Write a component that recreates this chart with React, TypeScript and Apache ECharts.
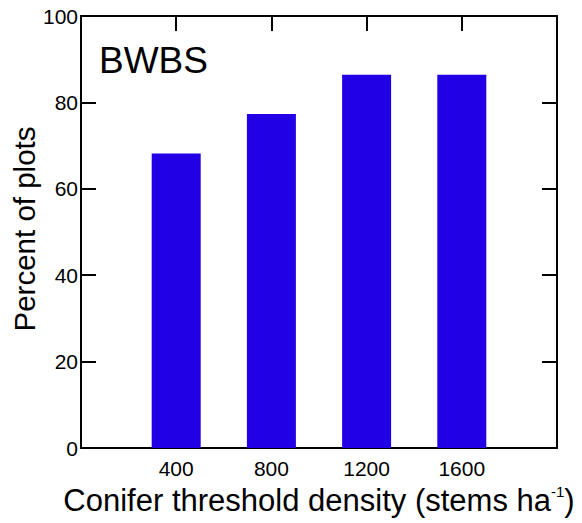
import React, { useEffect, useRef } from "react";
import * as echarts from "echarts";

const densities = [400, 800, 1200, 1600];
const percents = [68.2, 77.3, 86.4, 86.4];
const xTicks = [400, 800, 1200, 1600];
const panelLabel = "BWBS";
const yTitle = "Percent of plots";

const FONT = "Liberation Sans, Arial, sans-serif";

export default function App() {
  const ref = useRef<HTMLDivElement>(null);
  useEffect(() => {
    if (!ref.current) return;
    const chart = echarts.init(ref.current, null, { renderer: "svg" });
    const lineStyle = { color: "#000", width: 2 };
    const axisLine = { show: true, onZero: false, lineStyle };
    const tickStyle = { show: true, inside: true, length: 15, lineStyle: { color: "#000", width: 2 } };
    chart.setOption({
      animation: false,
      backgroundColor: "#fff",
      textStyle: { fontFamily: FONT },
      grid: { left: 81, right: 25, top: 16, bottom: 75, containLabel: false, outerBoundsMode: "none" },
      xAxis: [
        {
          type: "value",
          position: "bottom",
          min: 0,
          max: 2000,
          interval: 400,
          splitLine: { show: false },
          axisLine,
          axisTick: tickStyle,
          axisLabel: {
            color: "#000",
            fontSize: 21,
            fontFamily: FONT,
            margin: 10,
            formatter: (v: number) => (xTicks.includes(v) ? String(v) : ""),
          },
          name: "{a|Conifer threshold density (stems ha}{s|-1}{a|)}",
          nameLocation: "middle",
          nameGap: 35,
          nameTextStyle: {
            rich: {
              a: { fontSize: 31, fontFamily: FONT, color: "#000", lineHeight: 34 },
              s: { fontSize: 15, fontFamily: FONT, color: "#000", verticalAlign: "top", lineHeight: 34 },
            },
          },
        },
        {
          type: "value",
          position: "top",
          min: 0,
          max: 2000,
          interval: 400,
          splitLine: { show: false },
          axisLine,
          axisTick: tickStyle,
          axisLabel: { show: false },
        },
      ],
      yAxis: [
        {
          type: "value",
          position: "left",
          min: 0,
          max: 100,
          interval: 20,
          splitLine: { show: false },
          axisLine,
          axisTick: tickStyle,
          axisLabel: { color: "#000", fontSize: 21, fontFamily: FONT, margin: 3, padding: [4, 0, 0, 0] },
        },
        {
          type: "value",
          position: "right",
          min: 0,
          max: 100,
          interval: 20,
          splitLine: { show: false },
          axisLine,
          axisTick: tickStyle,
          axisLabel: { show: false },
        },
      ],
      graphic: [
        {
          type: "text",
          left: 99,
          top: 42,
          style: { text: panelLabel, fontSize: 37, fontFamily: FONT, fill: "#000" },
        },
        {
          type: "text",
          x: 24,
          y: 229,
          rotation: Math.PI / 2,
          style: {
            text: yTitle,
            fontSize: 29.5,
            fontFamily: FONT,
            fill: "#000",
            textAlign: "center",
            textVerticalAlign: "middle",
          },
        },
      ],
      series: [
        {
          type: "bar",
          xAxisIndex: 0,
          yAxisIndex: 0,
          barWidth: 49,
          itemStyle: { color: "#2200E6" },
          data: densities.map((d, i) => [d, percents[i]]),
        },
      ],
    });
    return () => chart.dispose();
  }, []);
  return (
    <div
      ref={ref}
      style={{ position: "fixed", left: 0, top: 0, width: 582, height: 523 }}
    />
  );
}
